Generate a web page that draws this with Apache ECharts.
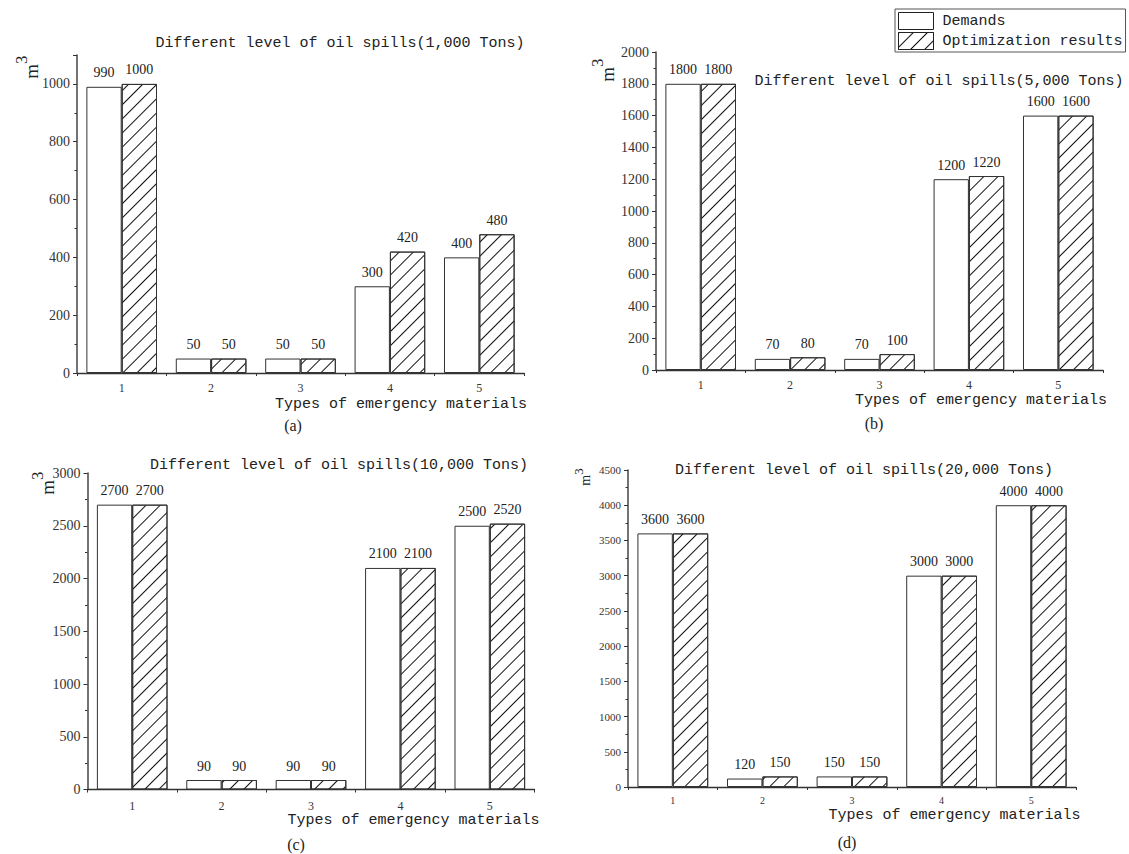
<!DOCTYPE html>
<html>
<head>
<meta charset="utf-8">
<script src="https://cdn.jsdelivr.net/npm/echarts@6/dist/echarts.min.js"></script>
<style>
html,body{margin:0;padding:0;background:#fff;}
#chart{width:1129px;height:854px;}
</style>
</head>
<body>
<div id="chart"></div>
<script>
const categories = ['1', '2', '3', '4', '5'];
const seriesNames = ['Demands', 'Optimization results'];

const demandsA = [990, 50, 50, 300, 400];
const optimizedA = [1000, 50, 50, 420, 480];
const demandsB = [1800, 70, 70, 1200, 1600];
const optimizedB = [1800, 80, 100, 1220, 1600];
const demandsC = [2700, 90, 90, 2100, 2500];
const optimizedC = [2700, 90, 90, 2100, 2520];
const demandsD = [3600, 120, 150, 3000, 4000];
const optimizedD = [3600, 150, 150, 3000, 4000];

const panelTitles = [
  'Different level of oil spills(1,000 Tons)',
  'Different level of oil spills(5,000 Tons)',
  'Different level of oil spills(10,000 Tons)',
  'Different level of oil spills(20,000 Tons)'
];
const panelCaptions = ['(a)', '(b)', '(c)', '(d)'];
const xAxisTitle = 'Types of emergency materials';
const yMax = [1100, 2000, 3000, 4500];
const yInterval = [200, 200, 500, 500];

const MONO = '"Liberation Mono", "DejaVu Sans Mono", monospace';
const SERIF = '"Liberation Serif", "DejaVu Serif", serif';

const grids = [
  {left: 77, top: 55, width: 447, height: 318},
  {left: 656, top: 52, width: 447, height: 318},
  {left: 87.5, top: 473, width: 447, height: 316.5},
  {left: 628, top: 470, width: 448, height: 317}
];
const tickFont = [14, 14, 14, 11];
const catFont = [12, 12, 12, 10];
const catMargin = [9, 9, 10, 8];

const demandSets = [demandsA, demandsB, demandsC, demandsD];
const optSets = [optimizedA, optimizedB, optimizedC, optimizedD];

const hatchDecal = {
  symbol: 'rect',
  symbolSize: 1,
  color: '#111',
  dashArrayX: [1, 0],
  dashArrayY: [1, 9],
  rotation: -Math.PI / 4
};

const xAxes = [], yAxes = [], series = [];
for (let i = 0; i < 4; i++) {
  xAxes.push({
    type: 'category', gridIndex: i, data: categories,
    axisLine: {lineStyle: {color: '#333', width: 1.3}},
    axisTick: {show: true, length: 3, lineStyle: {color: '#333'}},
    axisLabel: {fontFamily: SERIF, fontSize: catFont[i], color: '#333', margin: catMargin[i]},
    splitLine: {show: false}
  });
  yAxes.push({
    type: 'value', gridIndex: i, min: 0, max: yMax[i], interval: yInterval[i],
    axisLine: {show: true, lineStyle: {color: '#444', width: 1.5}},
    axisTick: {show: true, length: 4, lineStyle: {color: '#333'}},
    minorTick: {show: true, splitNumber: 2, length: 2.5, lineStyle: {color: '#333'}},
    axisLabel: {
      fontFamily: SERIF, fontSize: tickFont[i], color: '#333', margin: 7,
      showMaxLabel: i === 0 ? false : true,
      formatter: function (v) { return String(v); }
    },
    splitLine: {show: false}
  });
  const labelCfg = {show: true, position: 'top', distance: 7, fontFamily: SERIF, fontSize: 14, color: '#222'};
  series.push({
    name: seriesNames[0], type: 'bar', xAxisIndex: i, yAxisIndex: i,
    data: demandSets[i], barGap: '0%', barCategoryGap: '21%',
    itemStyle: {color: '#fff', borderColor: '#333', borderWidth: 1},
    label: labelCfg, emphasis: {disabled: true}
  });
  series.push({
    name: seriesNames[1], type: 'bar', xAxisIndex: i, yAxisIndex: i,
    data: optSets[i], barGap: '0%', barCategoryGap: '21%',
    itemStyle: {color: '#fff', borderColor: '#333', borderWidth: 1, decal: hatchDecal},
    label: labelCfg, emphasis: {disabled: true}
  });
}

const titlePos = [[340, 43], [939, 81], [339, 465], [864, 470]];
const xNamePos = [[275, 404], [855, 400], [287.5, 820], [828.5, 815]];
const capPos = [[293, 425], [874, 423], [296, 844], [847, 842]];
const mPos = [[27, 67], [603, 70], [43, 483], [582, 477]];
const mSize = [19, 19, 19, 14];

const graphics = [];
for (let i = 0; i < 4; i++) {
  graphics.push({type: 'text', x: titlePos[i][0], y: titlePos[i][1], silent: true,
    style: {text: panelTitles[i], font: '15px ' + MONO, fill: '#222', textAlign: 'center', textVerticalAlign: 'middle'}});
  graphics.push({type: 'text', x: xNamePos[i][0], y: xNamePos[i][1], silent: true,
    style: {text: xAxisTitle, font: '15px ' + MONO, fill: '#222', textAlign: 'left', textVerticalAlign: 'middle'}});
  graphics.push({type: 'text', x: capPos[i][0], y: capPos[i][1], silent: true,
    style: {text: panelCaptions[i], font: '16px ' + SERIF, fill: '#222', textAlign: 'center', textVerticalAlign: 'middle'}});
  graphics.push({type: 'text', x: mPos[i][0], y: mPos[i][1], rotation: Math.PI / 2, silent: true,
    style: {
      text: '{m|m}{s|3}', textAlign: 'center', textVerticalAlign: 'middle',
      rich: {
        m: {fontFamily: SERIF, fontSize: mSize[i], fill: '#222', verticalAlign: 'bottom', lineHeight: mSize[i] * 1.5},
        s: {fontFamily: SERIF, fontSize: Math.round(mSize[i] * 0.9), fill: '#222', verticalAlign: 'top', lineHeight: mSize[i] * 1.5}
      }
    }});
}

const chart = echarts.init(document.getElementById('chart'), null, {renderer: 'svg'});
chart.setOption({
  animation: false,
  backgroundColor: '#fff',
  legend: {
    data: seriesNames, orient: 'vertical', left: 895, top: 9,
    padding: [3, 3, 2, 3], itemGap: 2, itemWidth: 35, itemHeight: 17,
    borderColor: '#555', borderWidth: 1,
    icon: 'rect',
    itemStyle: {borderColor: '#222', borderWidth: 1},
    textStyle: {fontFamily: MONO, fontSize: 15, color: '#222', padding: [0, 0, 0, 4]},
    selectedMode: false
  },
  grid: grids,
  xAxis: xAxes,
  yAxis: yAxes,
  series: series,
  graphic: graphics
});
</script>
</body>
</html>
